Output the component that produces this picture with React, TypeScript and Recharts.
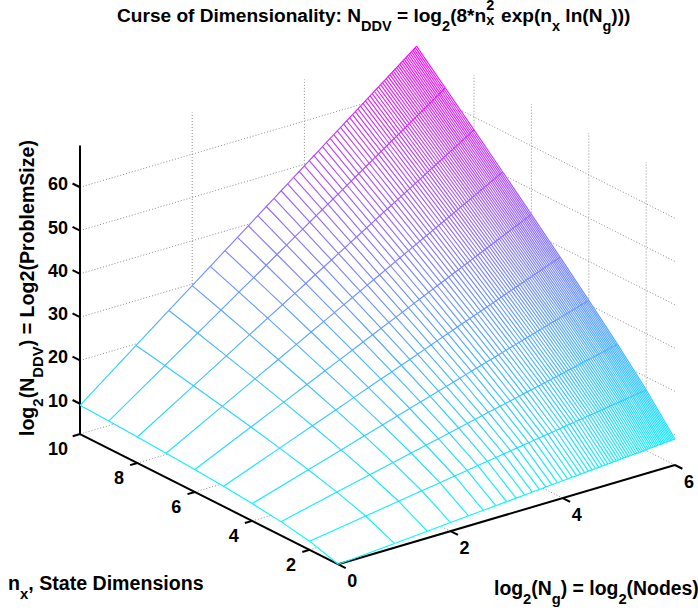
import { ComposedChart, Line, Area, XAxis, YAxis } from "recharts";

const nxValues = [1, 2, 3, 4, 5, 6, 7, 8, 9, 10];

// log2(Ng) for Ng = 1..64
const logNodes = [
  0, 1, 1.585, 2, 2.322, 2.585, 2.807, 3, 3.17, 3.322, 3.459, 3.585, 3.7, 3.807, 3.907, 4,
  4.087, 4.17, 4.248, 4.322, 4.392, 4.459, 4.524, 4.585, 4.644, 4.7, 4.755, 4.807, 4.858, 4.907, 4.954, 5,
  5.044, 5.087, 5.129, 5.17, 5.209, 5.248, 5.285, 5.322, 5.358, 5.392, 5.426, 5.459, 5.492, 5.524, 5.555, 5.585,
  5.615, 5.644, 5.672, 5.7, 5.728, 5.755, 5.781, 5.807, 5.833, 5.858, 5.883, 5.907, 5.931, 5.954, 5.977, 6,
];

// N_DDV, one row per logNodes entry, one column per nxValues entry
const nddv = [
  [3, 5, 6.17, 7, 7.64, 8.17, 8.61, 9, 9.34, 9.64],
  [4, 7, 9.17, 11, 12.64, 14.17, 15.61, 17, 18.34, 19.64],
  [4.59, 8.17, 10.93, 13.34, 15.57, 17.68, 19.71, 21.68, 23.61, 25.49],
  [5, 9, 12.17, 15, 17.64, 20.17, 22.61, 25, 27.34, 29.64],
  [5.32, 9.64, 13.14, 16.29, 19.25, 22.1, 24.86, 27.58, 30.24, 32.86],
  [5.59, 10.17, 13.93, 17.34, 20.57, 23.68, 26.71, 29.68, 32.61, 35.49],
  [5.81, 10.61, 14.59, 18.23, 21.68, 25.01, 28.26, 31.46, 34.6, 37.71],
  [6, 11, 15.17, 19, 22.64, 26.17, 29.61, 33, 36.34, 39.64],
  [6.17, 11.34, 15.68, 19.68, 23.49, 27.19, 30.8, 34.36, 37.87, 41.34],
  [6.32, 11.64, 16.14, 20.29, 24.25, 28.1, 31.86, 35.58, 39.24, 42.86],
  [6.46, 11.92, 16.55, 20.84, 24.94, 28.92, 32.82, 36.67, 40.47, 44.23],
  [6.59, 12.17, 16.93, 21.34, 25.57, 29.68, 33.71, 37.68, 41.61, 45.49],
  [6.7, 12.4, 17.27, 21.8, 26.14, 30.37, 34.51, 38.6, 42.64, 46.64],
  [6.81, 12.61, 17.59, 22.23, 26.68, 31.01, 35.26, 39.46, 43.6, 47.71],
  [6.91, 12.81, 17.89, 22.63, 27.18, 31.61, 35.96, 40.26, 44.5, 48.71],
  [7, 13, 18.17, 23, 27.64, 32.17, 36.61, 41, 45.34, 49.64],
  [7.09, 13.17, 18.43, 23.35, 28.08, 32.69, 37.22, 41.7, 46.12, 50.51],
  [7.17, 13.34, 18.68, 23.68, 28.49, 33.19, 37.8, 42.36, 46.87, 51.34],
  [7.25, 13.5, 18.91, 23.99, 28.88, 33.66, 38.35, 42.98, 47.57, 52.12],
  [7.32, 13.64, 19.14, 24.29, 29.25, 34.1, 38.86, 43.58, 48.24, 52.86],
  [7.39, 13.78, 19.35, 24.57, 29.6, 34.52, 39.35, 44.14, 48.87, 53.56],
  [7.46, 13.92, 19.55, 24.84, 29.94, 34.92, 39.82, 44.67, 49.47, 54.23],
  [7.52, 14.05, 19.74, 25.1, 30.26, 35.31, 40.28, 45.19, 50.06, 54.88],
  [7.59, 14.17, 19.93, 25.34, 30.57, 35.68, 40.71, 45.68, 50.61, 55.49],
  [7.64, 14.29, 20.1, 25.58, 30.86, 36.03, 41.12, 46.15, 51.14, 56.08],
  [7.7, 14.4, 20.27, 25.8, 31.14, 36.37, 41.51, 46.6, 51.64, 56.64],
  [7.76, 14.51, 20.44, 26.02, 31.42, 36.7, 41.9, 47.04, 52.14, 57.19],
  [7.81, 14.61, 20.59, 26.23, 31.68, 37.01, 42.26, 47.46, 52.6, 57.71],
  [7.86, 14.72, 20.74, 26.43, 31.93, 37.32, 42.62, 47.86, 53.06, 58.22],
  [7.91, 14.81, 20.89, 26.63, 32.18, 37.61, 42.96, 48.26, 53.5, 58.71],
  [7.95, 14.91, 21.03, 26.82, 32.41, 37.89, 43.29, 48.63, 53.93, 59.18],
  [8, 15, 21.17, 27, 32.64, 38.17, 43.61, 49, 54.34, 59.64],
  [8.04, 15.09, 21.3, 27.18, 32.86, 38.43, 43.92, 49.35, 54.74, 60.08],
  [8.09, 15.17, 21.43, 27.35, 33.08, 38.69, 44.22, 49.7, 55.12, 60.51],
  [8.13, 15.26, 21.56, 27.52, 33.29, 38.94, 44.51, 50.03, 55.5, 60.93],
  [8.17, 15.34, 21.68, 27.68, 33.49, 39.19, 44.8, 50.36, 55.87, 61.34],
  [8.21, 15.42, 21.8, 27.84, 33.69, 39.42, 45.07, 50.67, 56.22, 61.73],
  [8.25, 15.5, 21.91, 27.99, 33.88, 39.66, 45.35, 50.98, 56.57, 62.12],
  [8.29, 15.57, 22.03, 28.14, 34.07, 39.88, 45.61, 51.28, 56.91, 62.49],
  [8.32, 15.64, 22.14, 28.29, 34.25, 40.1, 45.86, 51.58, 57.24, 62.86],
  [8.36, 15.72, 22.24, 28.43, 34.43, 40.32, 46.12, 51.86, 57.56, 63.22],
  [8.39, 15.78, 22.35, 28.57, 34.6, 40.52, 46.35, 52.14, 57.87, 63.56],
  [8.43, 15.85, 22.45, 28.7, 34.77, 40.73, 46.59, 52.41, 58.17, 63.9],
  [8.46, 15.92, 22.55, 28.84, 34.94, 40.92, 46.82, 52.67, 58.47, 64.23],
  [8.49, 15.98, 22.65, 28.97, 35.1, 41.12, 47.05, 52.94, 58.77, 64.56],
  [8.52, 16.05, 22.74, 29.1, 35.26, 41.31, 47.28, 53.19, 59.06, 64.88],
  [8.56, 16.11, 22.84, 29.22, 35.42, 41.5, 47.5, 53.44, 59.34, 65.19],
  [8.59, 16.17, 22.93, 29.34, 35.57, 41.68, 47.71, 53.68, 59.61, 65.49],
  [8.62, 16.23, 23.02, 29.46, 35.72, 41.86, 47.92, 53.92, 59.88, 65.79],
  [8.64, 16.29, 23.1, 29.58, 35.86, 42.03, 48.12, 54.15, 60.14, 66.08],
  [8.67, 16.34, 23.19, 29.69, 36, 42.2, 48.31, 54.38, 60.39, 66.36],
  [8.7, 16.4, 23.27, 29.8, 36.14, 42.37, 48.51, 54.6, 60.64, 66.64],
  [8.73, 16.46, 23.35, 29.91, 36.28, 42.54, 48.71, 54.82, 60.89, 66.92],
  [8.76, 16.51, 23.44, 30.02, 36.42, 42.7, 48.9, 55.04, 61.14, 67.19],
  [8.78, 16.56, 23.51, 30.12, 36.55, 42.86, 49.08, 55.25, 61.37, 67.45],
  [8.81, 16.61, 23.59, 30.23, 36.68, 43.01, 49.26, 55.46, 61.6, 67.71],
  [8.83, 16.67, 23.67, 30.33, 36.81, 43.17, 49.44, 55.66, 61.84, 67.97],
  [8.86, 16.72, 23.74, 30.43, 36.93, 43.32, 49.62, 55.86, 62.06, 68.22],
  [8.88, 16.77, 23.82, 30.53, 37.06, 43.47, 49.79, 56.06, 62.29, 68.47],
  [8.91, 16.81, 23.89, 30.63, 37.18, 43.61, 49.96, 56.26, 62.5, 68.71],
  [8.93, 16.86, 23.96, 30.72, 37.3, 43.76, 50.13, 56.45, 62.72, 68.95],
  [8.95, 16.91, 24.03, 30.82, 37.41, 43.89, 50.29, 56.63, 62.93, 69.18],
  [8.98, 16.95, 24.1, 30.91, 37.53, 44.03, 50.45, 56.82, 63.13, 69.41],
  [9, 17, 24.17, 31, 37.64, 44.17, 50.61, 57, 63.34, 69.64],
];

const nxTicks = [2, 4, 6, 8, 10];
const logNodeTicks = [0, 2, 4, 6];
const nddvTicks = [10, 20, 30, 40, 50, 60];

const W = 698;
const H = 613;
const Z_MIN = 3;
const Z_MAX = 69.64;
const NX_MIN = 1;
const NX_MAX = 10;
const G_MAX = 6;

// fixed MATLAB-style orthographic view
const project = (nx: number, g: number, z: number) => ({
  x: 338.3 - (nx - 1) * 28.7 + g * 56.1,
  y: 564.3 - (nx - 1) * 14.47 - g * 16.55 - (z - Z_MIN) * 4.33,
});

// "cool" colormap
const cool = (z: number) => {
  const t = Math.min(1, Math.max(0, (z - Z_MIN) / (Z_MAX - Z_MIN)));
  return `rgb(${Math.round(255 * t)},${Math.round(255 * (1 - t))},255)`;
};

const seg = (a: number[], b: number[]) => [project(a[0], a[1], a[2]), project(b[0], b[1], b[2])];

const gridLines = [
  ...nddvTicks.map((z) => [
    project(NX_MAX, 0, z),
    project(NX_MAX, G_MAX, z),
    project(NX_MIN, G_MAX, z),
  ]),
  ...logNodeTicks.map((g) => seg([NX_MIN, g, Z_MIN], [NX_MAX, g, Z_MIN])),
  ...nxTicks.map((n) => seg([n, 0, Z_MIN], [n, G_MAX, Z_MIN])),
  ...logNodeTicks.filter((g) => g > 0).map((g) => seg([NX_MAX, g, Z_MIN], [NX_MAX, g, Z_MAX])),
  ...nxTicks.map((n) => seg([n, G_MAX, Z_MIN], [n, G_MAX, Z_MAX])),
];

const axisLines = [
  seg([NX_MIN, 0, Z_MIN], [NX_MAX, 0, Z_MIN]),
  seg([NX_MIN, 0, Z_MIN], [NX_MIN, G_MAX, Z_MIN]),
  seg([NX_MAX, 0, Z_MIN], [NX_MAX, 0, Z_MAX]),
  ...logNodeTicks.map((g) => seg([NX_MIN, g, Z_MIN], [NX_MIN - 0.26, g, Z_MIN])),
  ...nxTicks.map((n) => seg([n, 0, Z_MIN], [n, -0.13, Z_MIN])),
  ...nddvTicks.map((z) => seg([NX_MAX, 0, z], [NX_MAX + 0.26, 0, z])),
];

const nxLines = nxValues.map((n, j) =>
  logNodes.map((g, i) => project(n, g, nddv[i][j]))
);
const nodeLines = logNodes.map((g, i) =>
  nxValues.map((n, j) => project(n, g, nddv[i][j]))
);

// white sheet behind the mesh so it hides the grid, as the mesh faces do
const lowerEdge = [...nodeLines[0]].reverse().concat(nxLines[0][63]);
const upperEdge = [nxLines[9][0], ...[...nodeLines[63]].reverse()];
const yOn = (edge: { x: number; y: number }[], x: number) => {
  for (let i = 1; i < edge.length; i++) {
    if (x <= edge[i].x) {
      const t = (x - edge[i - 1].x) / (edge[i].x - edge[i - 1].x);
      return edge[i - 1].y + t * (edge[i].y - edge[i - 1].y);
    }
  }
  return edge[edge.length - 1].y;
};
const sheet = [...new Set([...lowerEdge, ...upperEdge].map((p) => p.x))]
  .sort((a, b) => a - b)
  .map((x) => ({ x, band: [yOn(lowerEdge, x), yOn(upperEdge, x)] }));

const tickLabels = [
  ...nddvTicks.map((z) => ({ ...project(NX_MAX, 0, z), text: String(z), dx: -22, dy: 3 })),
  ...nxTicks.map((n) => ({ ...project(n, 0, Z_MIN), text: String(n), dx: n === 10 ? -22 : -18.5, dy: 21 })),
  ...logNodeTicks.map((g) => ({ ...project(NX_MIN, g, Z_MIN), text: String(g), dx: 14, dy: 23 })),
];

const FONT = '"Liberation Sans", Arial, sans-serif';

const sub = { fontSize: "0.76em", position: "relative", top: "0.62em", lineHeight: 0 } as const;

function SubSup({ top, bottom }: { top: string; bottom: string }) {
  return (
    <span style={{ position: "relative", display: "inline-block", width: "0.5em", height: "1em" }}>
      <span style={{ position: "absolute", left: 0, top: "-0.4em", fontSize: "0.76em", lineHeight: "1.2em" }}>{top}</span>
      <span style={{ position: "absolute", left: 0, top: "0.62em", fontSize: "0.76em", lineHeight: "1.2em" }}>{bottom}</span>
    </span>
  );
}

function TextAt({ left, top, size, rotate, children }: any) {
  return (
    <div
      style={{
        position: "absolute",
        left,
        top,
        fontFamily: FONT,
        fontWeight: 700,
        fontSize: size,
        lineHeight: "20px",
        whiteSpace: "nowrap",
        color: "#000",
        transform: rotate ? "translate(-50%, -50%) rotate(-90deg)" : undefined,
      }}
    >
      {children}
    </div>
  );
}

const chartProps = {
  width: W,
  height: H,
  margin: { top: 0, right: 0, bottom: 0, left: 0 },
  style: { position: "absolute", left: 0, top: 0 },
} as const;

function Axes() {
  return [
    <XAxis key="x" hide type="number" dataKey="x" domain={[0, W]} />,
    <YAxis key="y" hide type="number" domain={[0, H]} reversed />,
  ];
}

export default function App() {
  return (
    <div style={{ position: "absolute", left: 0, top: 0, width: W, height: H, background: "#fff", overflow: "hidden" }}>
      <ComposedChart {...chartProps}>
        {Axes()}
        {gridLines.map((pts, i) => (
          <Line
            key={i}
            data={pts}
            dataKey="y"
            stroke="#8c8c8c"
            strokeWidth={1}
            strokeDasharray="1 2"
            dot={false}
            activeDot={false}
            isAnimationActive={false}
          />
        ))}
      </ComposedChart>

      <ComposedChart {...chartProps}>
        <defs>
          {nxValues.map((n, j) => (
            <linearGradient key={n} id={`nx-${j}`} x1="0" y1="1" x2="1" y2="0">
              <stop offset="0%" stopColor={cool(nddv[0][j])} />
              <stop offset="100%" stopColor={cool(nddv[63][j])} />
            </linearGradient>
          ))}
          {logNodes.map((g, i) => (
            <linearGradient key={g} id={`ng-${i}`} x1="1" y1="1" x2="0" y2="0">
              <stop offset="0%" stopColor={cool(nddv[i][0])} />
              <stop offset="100%" stopColor={cool(nddv[i][9])} />
            </linearGradient>
          ))}
        </defs>
        {Axes()}
        <Area
          data={sheet}
          dataKey="band"
          stroke="none"
          fill="#fff"
          fillOpacity={1}
          dot={false}
          activeDot={false}
          isAnimationActive={false}
        />
        {axisLines.map((pts, i) => (
          <Line key={`a${i}`} data={pts} dataKey="y" stroke="#000" strokeWidth={2} dot={false} activeDot={false} isAnimationActive={false} />
        ))}
        {nodeLines.map((pts, i) => (
          <Line key={`g${i}`} data={pts} dataKey="y" stroke={`url(#ng-${i})`} strokeWidth={1.15} dot={false} activeDot={false} isAnimationActive={false} />
        ))}
        {nxLines.map((pts, j) => (
          <Line key={`n${j}`} data={pts} dataKey="y" stroke={`url(#nx-${j})`} strokeWidth={1.15} dot={false} activeDot={false} isAnimationActive={false} />
        ))}
        <Line
          data={tickLabels}
          dataKey="y"
          stroke="none"
          dot={false}
          activeDot={false}
          isAnimationActive={false}
          label={(p: any) => {
            const t = tickLabels[p.index];
            return (
              <text key={p.index} x={p.x + t.dx} y={p.y + t.dy} textAnchor="middle" fontFamily={FONT} fontWeight={700} fontSize={18} fill="#000">
                {t.text}
              </text>
            );
          }}
        />
      </ComposedChart>

      <TextAt left={117} top={3} size={19.1}>
        Curse of Dimensionality: N<span style={sub}>DDV</span> = log<span style={sub}>2</span>(8*n
        <SubSup top="2" bottom="x" /> exp(n<span style={sub}>x</span> ln(N<span style={sub}>g</span>)))
      </TextAt>
      <TextAt left={27} top={288} size={19.6} rotate>
        log<span style={sub}>2</span>(N<span style={sub}>DDV</span>) = Log2(ProblemSize)
      </TextAt>
      <TextAt left={8} top={573} size={19.6}>
        n<span style={sub}>x</span>, State Dimensions
      </TextAt>
      <TextAt left={494} top={578} size={19.4}>
        log<span style={sub}>2</span>(N<span style={sub}>g</span>) = log<span style={sub}>2</span>(Nodes)
      </TextAt>
    </div>
  );
}
